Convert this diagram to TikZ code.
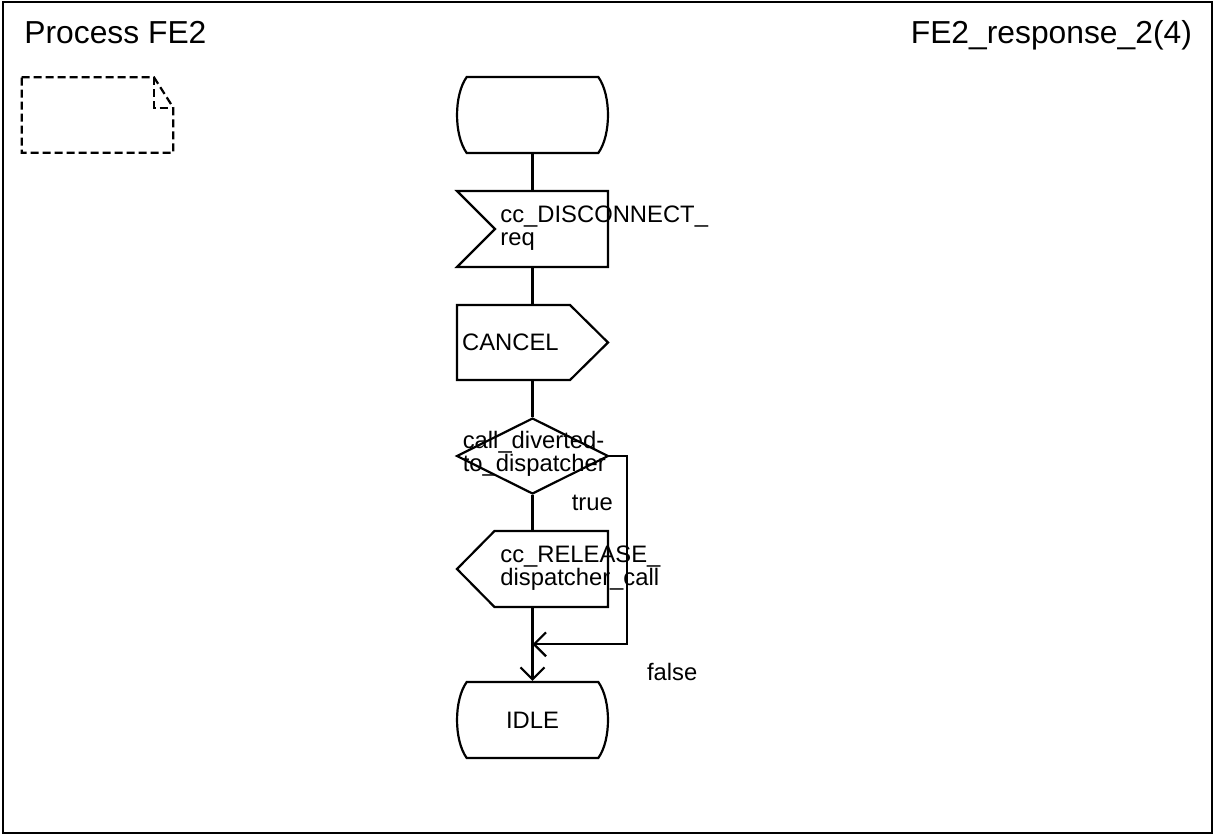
\documentclass[tikz,border=0pt]{standalone}
\usepackage{fontspec}
\setmainfont{Liberation Sans}
\usetikzlibrary{arrows.meta}
\begin{document}
\begin{tikzpicture}[x=0.5pt,y=-0.5pt, line width=1.1pt,
  box/.style={minimum width=75.5pt,minimum height=38pt,inner sep=0pt},
  lbl/.style={font=\fontsize{11.9}{11.5}\selectfont, inner sep=0pt, align=left},
  ttl/.style={font=\fontsize{15.9}{19}\selectfont, inner sep=0pt},
  notedash/.style={dash pattern=on 4pt off 2pt},
  arr/.style={-{Straight Barb[length=6pt,width=12pt]}}]
\useasboundingbox (0,0) rectangle (1214,837);
\draw[line width=1.3pt] (3,2) rectangle (1212,833);

% titles
\node[ttl,anchor=base west] (t1) at (23.3,43.3) {Process FE2};
\node[ttl,anchor=base east] (t2) at (1193,43.3) {FE2\_response\_2(4)};

% comment / note symbol
\draw[notedash] (21.7,77.3) -- (154,77.3) -- (173.3,107.7) -- (173.3,152.7) -- (21.7,152.7) -- cycle;
\draw[notedash] (154,77.3) -- (154,107.7) -- (173.3,107.7);

% anchor nodes
\node[box] (start) at (532.5,115) {};
\node[box] (in) at (532.5,229) {};
\node[box,minimum height=37.5pt] (cancel) at (532.5,342.5) {};
\node[box,minimum height=37.5pt] (dec) at (532.5,456) {};
\node[box] (rel) at (532.5,569) {};
\node[box,font=\fontsize{11.9}{11.5}\selectfont] (idle) at (532.5,720) {IDLE};

% shapes
\draw[shift={(start.center)}] (-65.8,-38) -- (65.8,-38) .. controls (78.7,-20) and (78.7,20) .. (65.8,38) -- (-65.8,38) .. controls (-78.7,20) and (-78.7,-20) .. (-65.8,-38) -- cycle;
\draw[shift={(idle.center)}] (-65.8,-38) -- (65.8,-38) .. controls (78.7,-20) and (78.7,20) .. (65.8,38) -- (-65.8,38) .. controls (-78.7,20) and (-78.7,-20) .. (-65.8,-38) -- cycle;
\draw[shift={(in.center)}] (-75.5,-38) -- (75.5,-38) -- (75.5,38) -- (-75.5,38) -- (-37.5,0) -- cycle;
\draw[shift={(cancel.center)}] (-75.5,-37.5) -- (37.5,-37.5) -- (75.5,0) -- (37.5,37.5) -- (-75.5,37.5) -- cycle;
\draw[shift={(dec.center)}] (0,-37.5) -- (75.5,0) -- (0,37.5) -- (-75.5,0) -- cycle;
\draw[shift={(rel.center)}] (-38,-38) -- (75.5,-38) -- (75.5,38) -- (-38,38) -- (-75.5,0) -- cycle;

% texts
\node[lbl,anchor=west] (inT) at (499.3,228.4) {cc\_DISCONNECT\_\\req};
\node[lbl,anchor=west] (canT) at (461,342.5) {CANCEL};
\node[lbl,anchor=west] (decT) at (461.7,454) {call\_diverted-\\to\_dispatcher};
\node[lbl,anchor=west] (relT) at (499.3,568) {cc\_RELEASE\_\\dispatcher\_call};
\node[lbl,anchor=base west] (tT) at (570.7,510) {true};
\node[lbl,anchor=base west] (fT) at (646,680.7) {false};

% connectors
\draw (start.south) -- (in.north);
\draw (in.south) -- (cancel.north);
\draw (cancel.south) -- (dec.north);
\draw (dec.south) -- (rel.north);
\draw[arr] (rel.south) -- (idle.north);
\coordinate (fx) at (627.3,644.3);
\coordinate (j) at (532.5,644.3);
\draw[arr] (dec.east) -| (fx) -- (j);
\end{tikzpicture}
\end{document}
